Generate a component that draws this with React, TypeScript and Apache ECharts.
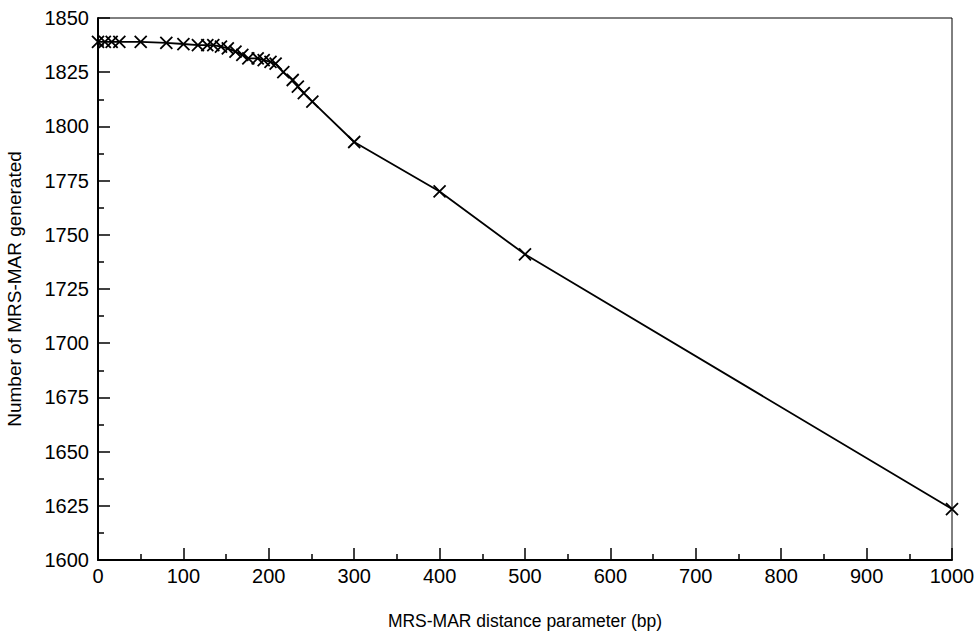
import React, { useEffect, useRef } from "react";
import * as echarts from "echarts";

const xValues = [0, 8, 16, 25, 50, 80, 100, 117, 128, 135, 144, 152, 161, 169, 176, 187, 194, 202, 208, 217, 228, 234, 241, 251, 300, 400, 500, 1000];
const yValues = [1839, 1839, 1839, 1839, 1839, 1838.5, 1838, 1837.5, 1837.5, 1837.5, 1836.8, 1836, 1834.5, 1833, 1831.4, 1831.4, 1830.6, 1829.8, 1829, 1825, 1821.4, 1818.3, 1815.3, 1811.4, 1792.8, 1770, 1741, 1623.5];

const xTitle = "MRS-MAR distance parameter (bp)";
const yTitle = "Number of MRS-MAR generated";

export default function App() {
  const ref = useRef<HTMLDivElement>(null);
  useEffect(() => {
    if (!ref.current) return;
    const chart = echarts.init(ref.current, null, { renderer: "svg" });
    const font = "Liberation Sans, Arial, Helvetica, sans-serif";
    const data = xValues.map((x, i) => [x, yValues[i]]);
    const plain = (v: number) => String(v);
    chart.setOption({
      animation: false,
      backgroundColor: "#ffffff",
      grid: {
        left: 98,
        right: 28,
        top: 18,
        bottom: 77,
        outerBoundsMode: "none",
        containLabel: false,
        show: true,
        borderColor: "#000",
        borderWidth: 1,
        backgroundColor: "transparent",
      },
      xAxis: {
        type: "value",
        min: 0,
        max: 1000,
        interval: 100,
        name: xTitle,
        nameLocation: "middle",
        nameGap: 52,
        nameTextStyle: { color: "#000", fontSize: 17.5, fontFamily: font },
        axisLine: { show: true, lineStyle: { color: "#000", width: 2 } },
        axisTick: { show: true, inside: true, length: 12, lineStyle: { color: "#000", width: 1.5 } },
        minorTick: { show: true, splitNumber: 2, length: 6, lineStyle: { color: "#000", width: 1.5 } },
        axisLabel: { color: "#000", fontSize: 20, fontFamily: font, margin: 6, formatter: plain },
        splitLine: { show: false },
      },
      yAxis: {
        type: "value",
        min: 1600,
        max: 1850,
        interval: 25,
        name: yTitle,
        nameLocation: "middle",
        nameGap: 74,
        nameRotate: 90,
        nameTextStyle: { color: "#000", fontSize: 19, fontFamily: font },
        axisLine: { show: true, lineStyle: { color: "#000", width: 2 } },
        axisTick: { show: true, inside: true, length: 12, lineStyle: { color: "#000", width: 1.5 } },
        minorTick: { show: true, splitNumber: 2, length: 6, lineStyle: { color: "#000", width: 1.5 } },
        axisLabel: { color: "#000", fontSize: 20, fontFamily: font, margin: 9, formatter: plain },
        splitLine: { show: false },
      },
      series: [
        {
          type: "line",
          data,
          symbol: "path://M0,0L10,10M10,0L0,10",
          symbolSize: 12,
          showAllSymbol: true,
          lineStyle: { color: "#000", width: 1.8 },
          itemStyle: { color: "none", borderColor: "#000", borderWidth: 1.8 },
        },
      ],
    });
    return () => chart.dispose();
  }, []);
  return (
    <div
      ref={ref}
      style={{ position: "fixed", left: 0, top: 0, width: 980, height: 637, background: "#fff" }}
    />
  );
}
